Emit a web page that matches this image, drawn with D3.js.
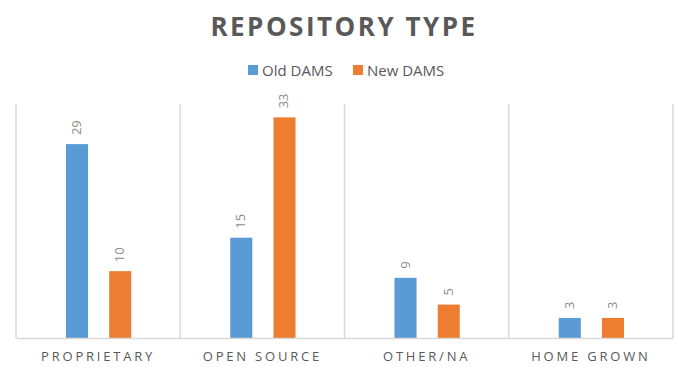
<!DOCTYPE html>
<html>
<head>
<meta charset="utf-8">
<script src="https://cdn.jsdelivr.net/npm/d3@7"></script>
<style>
  body { margin: 0; background: #fff; }
  text { font-family: "Open Sans", sans-serif; }
</style>
</head>
<body>
<div id="chart"></div>
<script>
// data
const categories = ["PROPRIETARY", "OPEN SOURCE", "OTHER/NA", "HOME GROWN"];
const seriesNames = ["Old DAMS", "New DAMS"];
const oldDams = [29, 15, 9, 3];
const newDams = [10, 33, 5, 3];
const colors = ["#5B9BD5", "#ED7D31"];

const W = 690, H = 371;
const margin = {top: 104, right: 17, bottom: 33, left: 16};
const width = W - margin.left - margin.right;
const height = H - margin.top - margin.bottom;

const svg = d3.select("#chart").append("svg")
    .attr("width", W).attr("height", H);

// title
svg.append("text")
    .attr("x", 344).attr("y", 36)
    .attr("text-anchor", "middle")
    .style("font-size", "26px")
    .style("font-weight", "bold")
    .style("letter-spacing", "2.5px")
    .style("fill", "#595959")
    .text("REPOSITORY TYPE");

// legend
const legendX = [248, 353];
seriesNames.forEach((name, i) => {
    svg.append("rect")
        .attr("x", legendX[i]).attr("y", 65)
        .attr("width", 10).attr("height", 10)
        .attr("fill", colors[i]);
    svg.append("text")
        .attr("x", legendX[i] + 14).attr("y", 76)
        .style("font-size", "15px")
        .style("fill", "#595959")
        .text(name);
});

const g = svg.append("g")
    .attr("transform", `translate(${margin.left},${margin.top})`);

const x0 = d3.scaleBand().domain(categories).range([0, width]);
const x1 = d3.scaleBand().domain(seriesNames)
    .range([50, x0.bandwidth() - 49]).paddingInner(0.49);
const y = d3.scaleLinear().domain([0, 35]).range([height, 0]);

// category dividers
g.append("g").selectAll("line")
    .data(d3.range(categories.length + 1))
    .join("line")
    .attr("x1", i => i * x0.bandwidth()).attr("x2", i => i * x0.bandwidth())
    .attr("y1", 0).attr("y2", height)
    .attr("stroke", "#d9d9d9").attr("stroke-width", 1.5);

// bars
const rows = categories.map((c, i) => ({cat: c, vals: [oldDams[i], newDams[i]]}));
const groups = g.selectAll(".grp").data(rows).join("g")
    .attr("transform", d => `translate(${x0(d.cat)},0)`);

groups.selectAll("rect")
    .data(d => d.vals.map((v, i) => ({key: seriesNames[i], v, i})))
    .join("rect")
    .attr("x", d => x1(d.key))
    .attr("y", d => y(d.v))
    .attr("width", x1.bandwidth())
    .attr("height", d => height - y(d.v))
    .attr("fill", d => colors[d.i]);

// value labels, rotated
groups.selectAll(".lbl")
    .data(d => d.vals.map((v, i) => ({key: seriesNames[i], v, i})))
    .join("text")
    .attr("transform", d => `translate(${x1(d.key) + x1.bandwidth() / 2 + 4},${y(d.v) - 9}) rotate(-90)`)
    .style("font-size", "13px")
    .style("fill", "#8c8c8c")
    .text(d => d.v);

// baseline axis
const xAxis = g.append("g")
    .attr("transform", `translate(0,${height})`)
    .call(d3.axisBottom(x0).tickSize(0).tickPadding(14));
xAxis.select(".domain").attr("stroke", "#d9d9d9").attr("stroke-width", 1.5);
xAxis.selectAll("text")
    .style("font-size", "13px")
    .style("letter-spacing", "2.8px")
    .style("fill", "#595959")
    .style("font-family", "'Open Sans', sans-serif");
</script>
</body>
</html>
